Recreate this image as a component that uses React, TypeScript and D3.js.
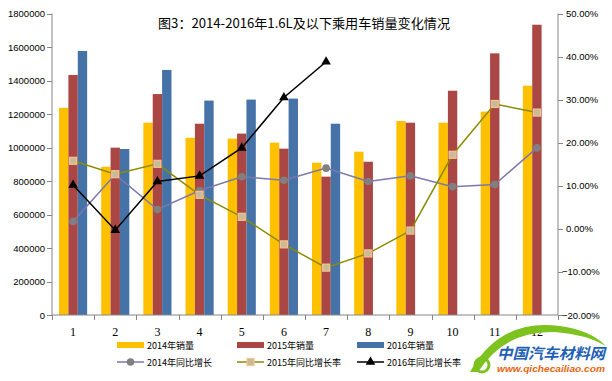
import React from 'react';
import * as d3 from 'd3';

const months = ['1', '2', '3', '4', '5', '6', '7', '8', '9', '10', '11', '12'];
const sales2014 = [1237000, 885000, 1148000, 1058000, 1053000, 1029000, 909000, 975000, 1158000, 1148000, 1214000, 1369000];
const sales2015 = [1433000, 999000, 1319000, 1142000, 1083000, 993000, 826000, 915000, 1148000, 1339000, 1562000, 1733000];
const sales2016 = [1576000, 991000, 1463000, 1280000, 1286000, 1292000, 1142000];
const growth2014 = [1.7, 12.6, 4.5, 8.9, 12.1, 11.3, 14.1, 11.0, 12.3, 9.8, 10.3, 18.8];
const growth2015 = [15.8, 12.7, 15.1, 7.9, 2.8, -3.6, -9.0, -5.7, -0.4, 17.2, 29.0, 27.0];
const growth2016 = [10.2, -0.3, 11.0, 12.3, 18.8, 30.5, 38.8];
const leftTicks = [0, 200000, 400000, 600000, 800000, 1000000, 1200000, 1400000, 1600000, 1800000];
const rightTicks = [-20, -10, 0, 10, 20, 30, 40, 50];
const barSeries = ['2014年销量', '2015年销量', '2016年销量'];
const lineSeries = ['2014年同比增长', '2015年同比增长率', '2016年同比增长率'];
const title = '图3：2014-2016年1.6L及以下乘用车销量变化情况';

const W = 612, H = 381;
const L = 52, R = 558, T = 13.5, B = 315;
const barColors = ['#FFC000', '#AA4643', '#4572A7'];
const numFont = '"Liberation Sans", Arial, sans-serif';
const cjkFont = '"Noto Sans CJK SC", "Liberation Sans", sans-serif';

export default function App() {
  const x = d3.scaleBand<string>().domain(months).range([L, R]).paddingInner(0).paddingOuter(0);
  const x1 = d3.scaleBand<string>().domain(barSeries).range([0, x.bandwidth()]).paddingInner(0).paddingOuter(0.75);
  const yL = d3.scaleLinear().domain([0, 1800000]).range([B, T]);
  const yR = d3.scaleLinear().domain([-20, 50]).range([B, T]);
  const cx = (i: number) => (x(months[i]) as number) + x.bandwidth() / 2;
  const salesData = [sales2014, sales2015, sales2016];
  const line = (arr: number[]) =>
    d3.line<number>().x((_, i) => cx(i)).y((d) => yR(d))(arr) as string;
  const tri = d3.symbol().type(d3.symbolTriangle).size(40)() as string;
  const boundaries = months.map((m) => x(m) as number).concat([R]);
  const pct = (v: number) => d3.format('.2f')(v) + '%';

  const legendX = [117, 237, 357];

  return (
    <svg width={W} height={H} style={{ position: 'absolute', left: 0, top: 0, background: '#fff' }}>
      <rect x={0} y={0} width={W} height={H} fill="#fff" />
      {/* bars */}
      {salesData.map((arr, s) =>
        arr.map((v, i) => (
          <rect
            key={`b${s}-${i}`}
            x={(x(months[i]) as number) + (x1(barSeries[s]) as number)}
            y={yL(v)}
            width={x1.bandwidth()}
            height={B - yL(v)}
            fill={barColors[s]}
          />
        ))
      )}
      {/* axes */}
      <g stroke="#868686" strokeWidth={1} fill="none">
        <line x1={L} x2={L} y1={T} y2={B} />
        <line x1={R} x2={R} y1={T} y2={B} />
        <line x1={L} x2={R} y1={B} y2={B} />
        {leftTicks.map((t) => (
          <line key={`lt${t}`} x1={L - 5} x2={L} y1={Math.round(yL(t)) + 0.5} y2={Math.round(yL(t)) + 0.5} />
        ))}
        {rightTicks.map((t) => (
          <line key={`rt${t}`} x1={R} x2={R + 5} y1={Math.round(yR(t)) + 0.5} y2={Math.round(yR(t)) + 0.5} />
        ))}
        {boundaries.map((b, i) => (
          <line key={`xt${i}`} x1={Math.round(b) + 0.5} x2={Math.round(b) + 0.5} y1={B} y2={B + 5} />
        ))}
      </g>
      {leftTicks.map((t) => (
        <text key={`ll${t}`} x={45} y={yL(t) + 3.5} textAnchor="end" fontSize={9.5} fontFamily={numFont} fill="#000">
          {t}
        </text>
      ))}
      {rightTicks.map((t) => (
        <text key={`rl${t}`} x={t < 0 ? 562 : 566} y={yR(t) + 3.5} textAnchor="start" fontSize={9.5} fontFamily={numFont} fill="#000">
          {pct(t)}
        </text>
      ))}
      {months.map((m, i) => (
        <text key={`xl${m}`} x={cx(i)} y={336} textAnchor="middle" fontSize={12} fontFamily='"Liberation Serif", serif' fill="#000">
          {m}
        </text>
      ))}
      {/* lines */}
      <path d={line(growth2014)} fill="none" stroke="#7B78AE" strokeWidth={1.5} />
      {growth2014.map((v, i) => (
        <circle key={`c${i}`} cx={cx(i)} cy={yR(v)} r={3.8} fill="#808080" />
      ))}
      <path d={line(growth2015)} fill="none" stroke="#8C8C00" strokeWidth={1.5} />
      {growth2015.map((v, i) => (
        <rect key={`s${i}`} x={cx(i) - 3.5} y={yR(v) - 3.5} width={7} height={7} fill="#C4BD97" stroke="#FAC090" strokeWidth={1.2} />
      ))}
      <path d={line(growth2016)} fill="none" stroke="#000" strokeWidth={1.5} />
      {growth2016.map((v, i) => (
        <path key={`t${i}`} d={tri} transform={`translate(${cx(i)},${yR(v)})`} fill="#000" />
      ))}
      {/* title */}
      <text x={158} y={28} fontSize={13} fontFamily={cjkFont} fill="#000" textLength={292} lengthAdjust="spacingAndGlyphs">
        {title}
      </text>
      {/* legend */}
      {barSeries.map((s, i) => (
        <g key={`lg${i}`}>
          <rect x={legendX[i]} y={342} width={27} height={6} fill={barColors[i]} />
          <text x={legendX[i] + 30} y={348.5} fontSize={9} fontFamily={cjkFont} fill="#000">
            {s}
          </text>
        </g>
      ))}
      {lineSeries.map((s, i) => (
        <g key={`ll2${i}`}>
          <line x1={legendX[i]} x2={legendX[i] + 27} y1={362} y2={362} stroke={['#7B78AE', '#8C8C00', '#000'][i]} strokeWidth={1.5} />
          {i === 0 && <circle cx={legendX[i] + 13.5} cy={362} r={3.8} fill="#808080" />}
          {i === 1 && (
            <rect x={legendX[i] + 10} y={358.5} width={7} height={7} fill="#C4BD97" stroke="#FAC090" strokeWidth={1.2} />
          )}
          {i === 2 && <path d={tri} transform={`translate(${legendX[i] + 13.5},${362})`} fill="#000" />}
          <text x={legendX[i] + 30} y={365.5} fontSize={9} fontFamily={cjkFont} fill="#000">
            {s}
          </text>
        </g>
      ))}
      {/* watermark logo */}
      <g>
        <path d="M 470 372 Q 500 318 560 326 Q 590 330 606 346 Q 585 334 555 332 Q 505 330 478 372 Z" fill="#7DC21E" />
        <circle cx={482} cy={365} r={7} fill="none" stroke="#7DC21E" strokeWidth={3} />
        <text x={497} y={359} fontSize={15} fontWeight="bold" fontStyle="italic" fontFamily={cjkFont} fill="#1E5FB8" textLength={108} lengthAdjust="spacingAndGlyphs">
          中国汽车材料网
        </text>
        <text x={497} y={372} fontSize={8.5} fontWeight="bold" fontStyle="italic" fontFamily={numFont} fill="#E8650F" textLength={108} lengthAdjust="spacingAndGlyphs">
          www.qichecailiao.com
        </text>
      </g>
    </svg>
  );
}
